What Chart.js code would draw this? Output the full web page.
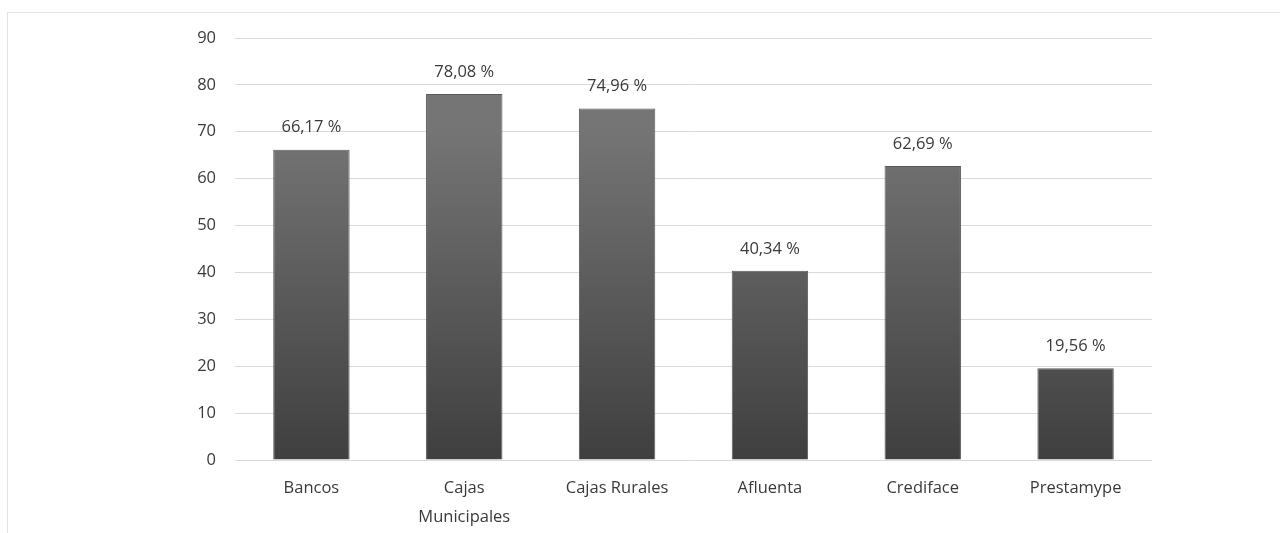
<!DOCTYPE html>
<html>
<head>
<meta charset="utf-8">
<script src="https://cdn.jsdelivr.net/npm/chart.js@4.4.1/dist/chart.umd.min.js"></script>
<style>
  html, body { margin: 0; padding: 0; background: #fff; }
  #wrap { position: relative; width: 1280px; height: 533px; }
  #frame { position: absolute; left: 7px; top: 12px; right: 0; bottom: 0;
           border-top: 1px solid #e2e2e2; border-left: 1px solid #e2e2e2; }
  canvas { position: absolute; left: 0; top: 0; }
</style>
</head>
<body>
<div id="wrap">
  <div id="frame"></div>
  <canvas id="myChart" width="1280" height="533"></canvas>
</div>
<script>
var categories = ["Bancos", ["Cajas", "Municipales"], "Cajas Rurales", "Afluenta", "Crediface", "Prestamype"];
var values = [66.17, 78.08, 74.96, 40.34, 62.69, 19.56];
var valueLabels = ["66,17 %", "78,08 %", "74,96 %", "40,34 %", "62,69 %", "19,56 %"];
var yTicks = [0, 10, 20, 30, 40, 50, 60, 70, 80, 90];

var fontFamily = "'Open Sans', 'Liberation Sans', sans-serif";
var textColor = "#3a3a3a";

var ctx = document.getElementById("myChart").getContext("2d");

// bar gradient, lighter on top
function barFill(context) {
  var chart = context.chart;
  var area = chart.chartArea;
  if (!area) return "#606060";
  var g = chart.ctx.createLinearGradient(0, area.top + 90, 0, area.bottom);
  g.addColorStop(0, "#757575");
  g.addColorStop(1, "#3f3f3f");
  return g;
}

// value labels above bars
var topLabels = {
  id: "topLabels",
  afterDatasetsDraw: function (chart) {
    var c = chart.ctx;
    var meta = chart.getDatasetMeta(0);
    c.save();
    c.font = "16.5px " + fontFamily;
    c.fillStyle = textColor;
    c.textAlign = "center";
    c.textBaseline = "middle";
    meta.data.forEach(function (bar, i) {
      c.fillText(valueLabels[i], bar.x, bar.y - 22);
    });
    c.restore();
  }
};

var myChart = new Chart(ctx, {
  type: "bar",
  plugins: [topLabels],
  data: {
    labels: categories,
    datasets: [
      {
        data: values,
        backgroundColor: barFill,
        borderColor: "#5a5a5a",
        borderWidth: 1,
        barPercentage: 0.5,
        categoryPercentage: 1
      }
    ]
  },
  options: {
    responsive: false,
    animation: false,
    layout: {
      padding: { left: 0, right: 128, top: 38, bottom: 0 }
    },
    plugins: {
      legend: { display: false },
      tooltip: { enabled: false }
    },
    scales: {
      x: {
        grid: { display: false, drawTicks: false },
        border: { display: false },
        ticks: {
          color: textColor,
          font: { family: fontFamily, size: 16.5, lineHeight: 1.75 },
          padding: 14,
          maxRotation: 0
        },
        afterFit: function (axis) {
          axis.height = 73;
        }
      },
      y: {
        min: 0,
        max: 90,
        afterBuildTicks: function (axis) {
          axis.ticks = yTicks.map(function (v) { return { value: v }; });
        },
        grid: { color: "#d9d9d9", lineWidth: 1, drawTicks: false },
        border: { display: false },
        ticks: {
          color: textColor,
          font: { family: fontFamily, size: 16.5 },
          padding: 19
        },
        afterFit: function (axis) {
          axis.width = 235;
        }
      }
    }
  }
});
</script>
</body>
</html>
